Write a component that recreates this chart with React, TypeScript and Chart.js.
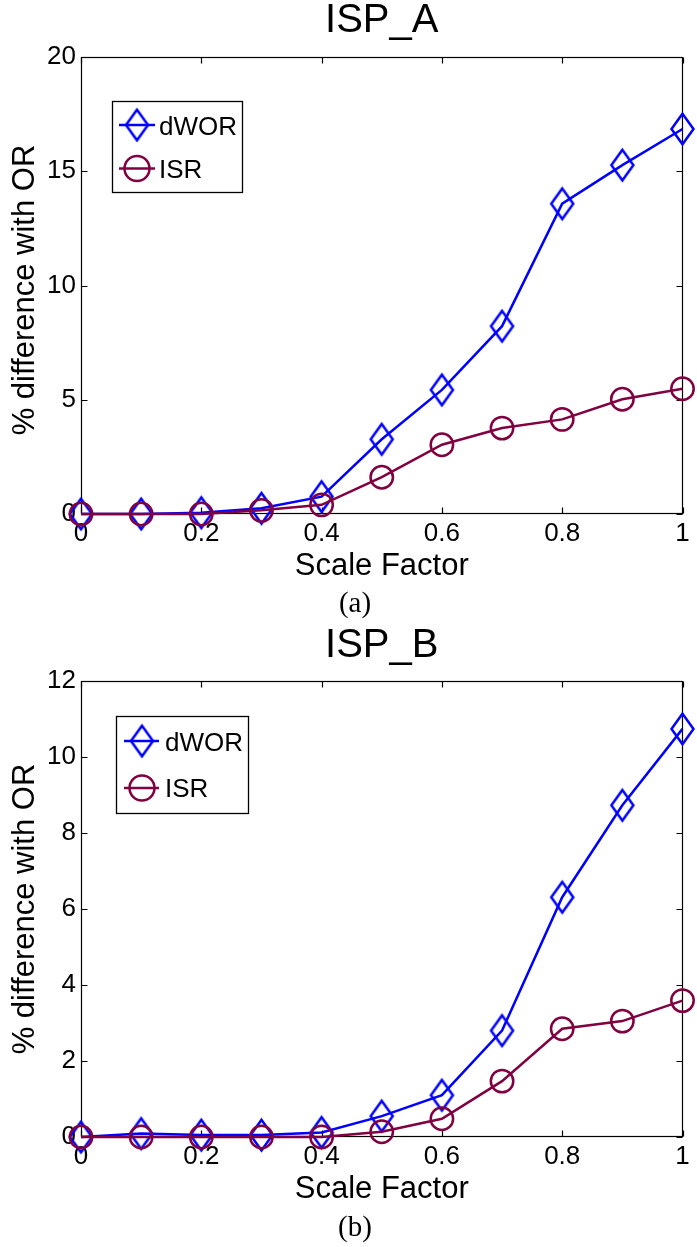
import React, { useEffect, useRef } from 'react';
import { Chart, registerables } from 'chart.js';

Chart.register(...registerables);

// ---------- data ----------
const scaleFactors = [0, 0.1, 0.2, 0.3, 0.4, 0.5, 0.6, 0.7, 0.8, 0.9, 1.0];
const ispA_dWOR = [0, 0, 0.06, 0.25, 0.76, 3.27, 5.43, 8.22, 13.58, 15.27, 16.85];
const ispA_ISR = [0, 0, 0, 0.16, 0.4, 1.61, 3.03, 3.76, 4.14, 5.02, 5.48];
const ispB_dWOR = [0, 0.09, 0.05, 0.05, 0.12, 0.55, 1.1, 2.8, 6.31, 8.73, 10.74];
const ispB_ISR = [0, 0, 0, 0, 0, 0.14, 0.48, 1.47, 2.85, 3.05, 3.59];
const xTickValues = [0, 0.2, 0.4, 0.6, 0.8, 1];
const yTickValuesA = [0, 5, 10, 15, 20];
const yTickValuesB = [0, 2, 4, 6, 8, 10, 12];
const seriesLabels = ['dWOR', 'ISR'];
const titles = ['ISP_A', 'ISP_B'];
const captions = ['(a)', '(b)'];
const xAxisTitle = 'Scale Factor';
const yAxisTitle = '% difference with OR';

const BLUE = '#0000ff';
const MAROON = '#800040';
const SANS = '"Liberation Sans", Arial, Helvetica, sans-serif';
const SERIF = '"Liberation Serif", "Times New Roman", serif';
const LW = 2.5;

function makeDiamond(color: string, halfW: number, halfH: number, lw: number) {
  const c = document.createElement('canvas');
  const W = Math.ceil(halfW * 2 + lw * 2 + 2);
  const H = Math.ceil(halfH * 2 + lw * 2 + 2);
  c.width = W;
  c.height = H;
  const ctx = c.getContext('2d')!;
  ctx.strokeStyle = color;
  ctx.lineWidth = lw;
  ctx.lineJoin = 'miter';
  const cx = W / 2, cy = H / 2;
  ctx.beginPath();
  ctx.moveTo(cx, cy - halfH);
  ctx.lineTo(cx + halfW, cy);
  ctx.lineTo(cx, cy + halfH);
  ctx.lineTo(cx - halfW, cy);
  ctx.closePath();
  ctx.stroke();
  return c;
}

const decorPlugin = {
  id: 'decor',
  beforeDatasetsDraw(chart: any) {
    const { ctx, chartArea: a } = chart;
    const L = Math.round(a.left) + 0.5, R = Math.round(a.right) - 0.5;
    const T = Math.round(a.top) + 0.5, B = Math.round(a.bottom) - 0.5;
    ctx.save();
    ctx.strokeStyle = '#000';
    ctx.lineWidth = 1.2;
    ctx.strokeRect(L, T, R - L, B - T);
    ctx.beginPath();
    const xs = chart.scales.x, ys = chart.scales.y;
    const tl = 6;
    xs.ticks.forEach((t: any) => {
      const px = Math.round(xs.getPixelForValue(t.value)) + 0.5;
      ctx.moveTo(px, B); ctx.lineTo(px, B - tl);
      ctx.moveTo(px, T); ctx.lineTo(px, T + tl);
    });
    ys.ticks.forEach((t: any) => {
      const py = Math.round(ys.getPixelForValue(t.value)) + 0.5;
      ctx.moveTo(L, py); ctx.lineTo(L + tl, py);
      ctx.moveTo(R, py); ctx.lineTo(R - tl, py);
    });
    ctx.stroke();
    ctx.restore();
  },
  afterDraw(chart: any, _args: any, opts: any) {
    const { ctx, chartArea: a } = chart;
    const cx = (a.left + a.right) / 2;
    ctx.save();
    ctx.fillStyle = '#000';
    ctx.textBaseline = 'alphabetic';
    ctx.textAlign = 'center';
    ctx.font = `40px ${SANS}`;
    ctx.fillText(opts.title, cx, opts.titleBaseline);
    ctx.font = `31px ${SANS}`;
    ctx.fillText(opts.xTitle, cx, opts.xTitleBaseline);
    ctx.save();
    ctx.translate(opts.yTitleX, opts.yTitleCenter);
    ctx.rotate(-Math.PI / 2);
    ctx.fillText(opts.yTitle, 0, 0);
    ctx.restore();
    ctx.font = `29px ${SERIF}`;
    ctx.fillText(opts.caption, opts.captionX, opts.captionBaseline);

    // legend
    const lg = opts.legend;
    ctx.fillStyle = '#fff';
    ctx.fillRect(lg.x, lg.y, lg.w, lg.h);
    ctx.strokeStyle = '#000';
    ctx.lineWidth = 1.3;
    ctx.strokeRect(lg.x + 0.5, lg.y + 0.5, lg.w, lg.h);
    chart.data.datasets.forEach((ds: any, i: number) => {
      const cy = lg.rows[i];
      ctx.strokeStyle = ds.borderColor;
      ctx.lineWidth = ds.borderWidth;
      ctx.beginPath();
      ctx.moveTo(lg.lineX1, cy);
      ctx.lineTo(lg.lineX2, cy);
      ctx.stroke();
      if (typeof ds.pointStyle === 'object') {
        const img = ds.pointStyle;
        ctx.drawImage(img, lg.markerX - img.width / 2, cy - img.height / 2);
      } else {
        ctx.lineWidth = ds.pointBorderWidth;
        ctx.beginPath();
        ctx.arc(lg.markerX, cy, lg.circleR, 0, Math.PI * 2);
        ctx.stroke();
      }
      ctx.fillStyle = '#000';
      ctx.textAlign = 'left';
      ctx.font = `26px ${SANS}`;
      ctx.fillText(ds.label, lg.textX, lg.baselines[i]);
    });
    ctx.restore();
  },
};

interface PanelCfg {
  top: number;
  idx: number;
  dWOR: number[];
  ISR: number[];
  yTicks: number[];
  plotTop: number;
  xAxisHeight: number;
  titleBaseline: number;
  yTitleCenter: number;
  legend: any;
  captionBaseline: number;
}

function Panel({ cfg }: { cfg: PanelCfg }) {
  const ref = useRef<HTMLCanvasElement | null>(null);
  useEffect(() => {
    if (!ref.current) return;
    const diamond = makeDiamond(BLUE, 11, 15.3, LW);
    const yMax = cfg.yTicks[cfg.yTicks.length - 1];
    const chart = new Chart(ref.current, {
      type: 'line',
      data: {
        datasets: [
          {
            label: seriesLabels[0],
            data: scaleFactors.map((x, i) => ({ x, y: cfg.dWOR[i] })),
            borderColor: BLUE,
            borderWidth: LW,
            pointStyle: diamond as any,
            pointRadius: 12,
            pointBorderColor: BLUE,
            pointBackgroundColor: 'rgba(0,0,0,0)',
            pointBorderWidth: LW,
            tension: 0,
            fill: false,
            clip: false as any,
            order: 1,
          },
          {
            label: seriesLabels[1],
            data: scaleFactors.map((x, i) => ({ x, y: cfg.ISR[i] })),
            borderColor: MAROON,
            borderWidth: LW,
            pointStyle: 'circle',
            pointRadius: 11.2,
            pointBorderColor: MAROON,
            pointBackgroundColor: 'rgba(0,0,0,0)',
            pointBorderWidth: LW,
            tension: 0,
            fill: false,
            clip: false as any,
            order: 0,
          },
        ],
      },
      options: {
        responsive: false,
        animation: false,
        devicePixelRatio: 1,
        events: [],
        layout: { padding: { top: cfg.plotTop, right: 11, left: 0, bottom: 0 } },
        plugins: {
          legend: { display: false },
          tooltip: { enabled: false },
          title: { display: false },
          decor: {
            title: titles[cfg.idx],
            titleBaseline: cfg.titleBaseline,
            xTitle: xAxisTitle,
            xTitleBaseline: 575,
            yTitle: yAxisTitle,
            yTitleX: 34,
            yTitleCenter: cfg.yTitleCenter,
            caption: captions[cfg.idx],
            captionX: 355,
            captionBaseline: cfg.captionBaseline,
            legend: cfg.legend,
          },
        } as any,
        scales: {
          x: {
            type: 'linear',
            min: 0,
            max: 1,
            grid: { display: false, drawTicks: false },
            border: { display: false },
            afterBuildTicks: (s: any) => {
              s.ticks = xTickValues.map((v) => ({ value: v }));
            },
            afterFit: (s: any) => {
              s.height = cfg.xAxisHeight;
            },
            ticks: {
              color: '#000',
              font: { family: SANS, size: 26, lineHeight: 1.2 },
              padding: 4,
              maxRotation: 0,
              autoSkip: false,
              callback: (v: any) => String(v),
            },
          },
          y: {
            type: 'linear',
            min: 0,
            max: yMax,
            grid: { display: false, drawTicks: false },
            border: { display: false },
            afterBuildTicks: (s: any) => {
              s.ticks = cfg.yTicks.map((v) => ({ value: v }));
            },
            afterFit: (s: any) => {
              s.width = 81;
            },
            ticks: {
              color: '#000',
              font: { family: SANS, size: 26 },
              padding: 5,
              autoSkip: false,
              callback: (v: any) => String(v),
            },
          },
        },
      },
      plugins: [decorPlugin as any],
    });
    return () => chart.destroy();
  }, [cfg]);
  return (
    <canvas
      ref={ref}
      width={697}
      height={624}
      style={{ position: 'absolute', left: 0, top: cfg.top, width: 697, height: 624, display: 'block' }}
    />
  );
}

const panelA: PanelCfg = {
  top: 0,
  idx: 0,
  dWOR: ispA_dWOR,
  ISR: ispA_ISR,
  yTicks: yTickValuesA,
  plotTop: 57,
  xAxisHeight: 110,
  titleBaseline: 32,
  yTitleCenter: 290,
  legend: {
    x: 112, y: 101, w: 130, h: 91,
    lineX1: 119, lineX2: 155, markerX: 137, textX: 159,
    rows: [125, 168.5], baselines: [135, 178], circleR: 12.5,
  },
  captionBaseline: 612,
};

const panelB: PanelCfg = {
  top: 623,
  idx: 1,
  dWOR: ispB_dWOR,
  ISR: ispB_ISR,
  yTicks: yTickValuesB,
  plotTop: 58,
  xAxisHeight: 110,
  titleBaseline: 34,
  yTitleCenter: 286,
  legend: {
    x: 116, y: 93, w: 132, h: 97,
    lineX1: 124, lineX2: 159, markerX: 142, textX: 165,
    rows: [118, 165], baselines: [128, 174], circleR: 12.5,
  },
  captionBaseline: 613,
};

export default function App() {
  return (
    <div style={{ position: 'absolute', left: 0, top: 0, width: 697, height: 1247, background: '#fff' }}>
      <Panel cfg={panelA} />
      <Panel cfg={panelB} />
    </div>
  );
}
